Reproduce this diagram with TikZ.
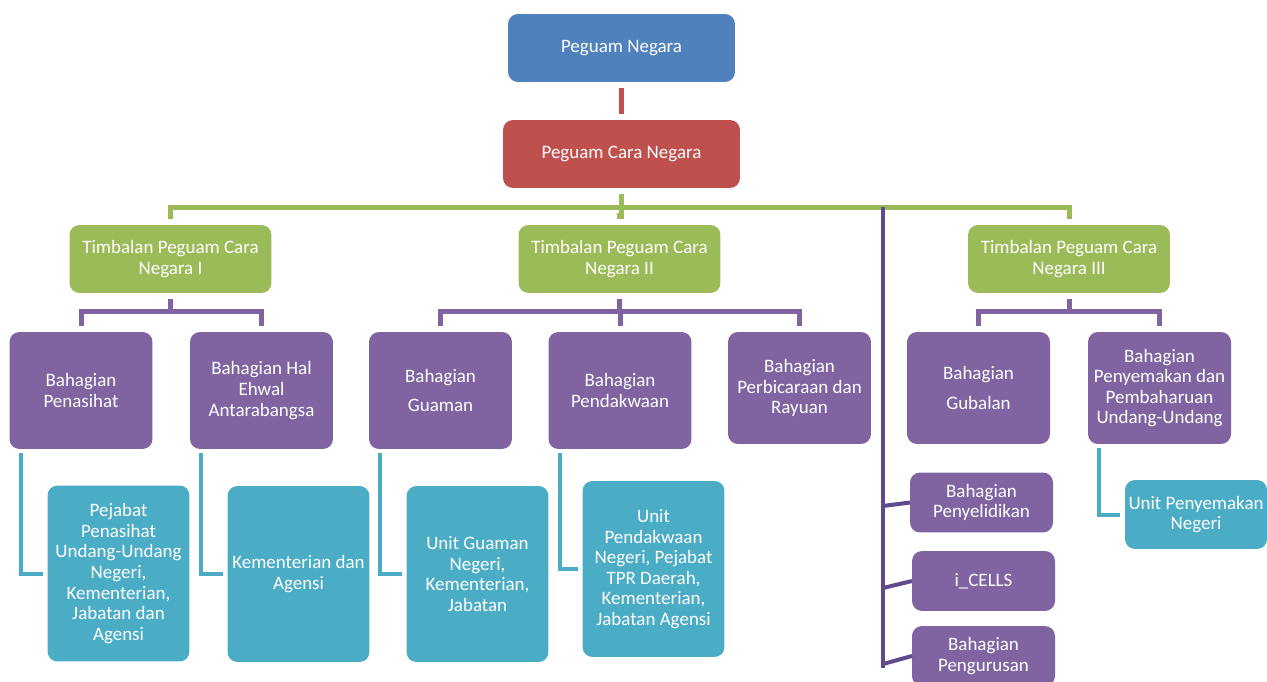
\documentclass[tikz,border=0pt]{standalone}
\usepackage{fontspec}
\setmainfont{Carlito}
\definecolor{pgblue}{HTML}{4F81BD}
\definecolor{pgred}{HTML}{C0504D}
\definecolor{pggreen}{HTML}{9BBB59}
\definecolor{pgpurple}{HTML}{8064A2}
\definecolor{pgdark}{HTML}{5F4B8B}
\definecolor{pgteal}{HTML}{4BACC6}
\begin{document}
\begin{tikzpicture}[x=0.02cm, y=-0.02cm,
  box/.style={rounded corners=0.2cm, text=white, align=center, inner sep=0pt, outer sep=0pt,
    font=\fontsize{10.8}{11.7}\selectfont},
  bluebox/.style={box, fill=pgblue, minimum width=4.54cm, minimum height=1.36cm},
  redbox/.style={box, fill=pgred, minimum width=4.74cm, minimum height=1.36cm},
  greenbox/.style={box, fill=pggreen, minimum width=4.04cm, minimum height=1.36cm},
  divbox/.style={box, fill=pgpurple, minimum width=2.86cm, minimum height=2.34cm},
  divshort/.style={box, fill=pgpurple, minimum width=2.86cm, minimum height=2.24cm},
  smallbox/.style={box, fill=pgpurple, minimum width=2.86cm, minimum height=1.2cm},
  unitbox/.style={box, fill=pgteal, minimum width=2.84cm, minimum height=3.52cm},
  unitsmall/.style={box, fill=pgteal, minimum width=2.84cm, minimum height=1.38cm},
  link/.style={line width=0.1cm, shorten <=0.12cm, shorten >=0.12cm},
  redline/.style={link, pgred},
  greenline/.style={link, pggreen},
  purpleline/.style={link, pgpurple},
  darkline/.style={line width=0.08cm, pgdark},
  tealline/.style={line width=0.08cm, pgteal, shorten <=0.09cm, shorten >=0.1cm}]

\useasboundingbox (0,0) rectangle (1267,682);

\node[bluebox] (pn) at (621.5,48) {Peguam Negara};
\node[redbox] (pcn) at (621.5,154) {Peguam Cara Negara};

\node[greenbox] (tp1) at (170.5,259) {Timbalan Peguam Cara\\Negara I};
\node[greenbox] (tp2) at (619.5,259) {Timbalan Peguam Cara\\Negara II};
\node[greenbox] (tp3) at (1069,259) {Timbalan Peguam Cara\\Negara III};

\node[divbox] (pen) at (81,390.5) {Bahagian\\Penasihat};
\node[divbox] (hal) at (261.5,390.5) {Bahagian Hal\\Ehwal\\Antarabangsa};
\node[divbox] (gua) at (440.5,390.5) {Bahagian\\[0.17cm]Guaman};
\node[divbox] (pdk) at (620,390.5) {Bahagian\\Pendakwaan};
\node[divshort] (prb) at (799.5,388) {Bahagian\\Perbicaraan dan\\Rayuan};
\node[divshort] (gub) at (978.5,388) {Bahagian\\[0.17cm]Gubalan};
\node[divshort] (pym) at (1159.5,388) {Bahagian\\Penyemakan dan\\Pembaharuan\\Undang-Undang};

\node[unitbox] (pej) at (118.5,573.5) {Pejabat\\Penasihat\\Undang-Undang\\Negeri,\\Kementerian,\\Jabatan dan\\Agensi};
\node[unitbox] (kem) at (298.5,574) {Kementerian dan\\Agensi};
\node[unitbox] (ung) at (477.5,574) {Unit Guaman\\Negeri,\\Kementerian,\\Jabatan};
\node[unitbox] (upd) at (653.5,569) {Unit\\Pendakwaan\\Negeri, Pejabat\\TPR Daerah,\\Kementerian,\\Jabatan Agensi};
\node[unitsmall] (ups) at (1196,514.5) {Unit Penyemakan\\Negeri};

\node[smallbox] (pny) at (981.5,502.5) {Bahagian\\Penyelidikan};
\node[smallbox] (cells) at (983.5,581) {i\_CELLS};
\node[smallbox] (png) at (983.5,656) {Bahagian\\Pengurusan};

\draw[redline] (pn) -- (pcn);
\draw[greenline] (pcn.south) -- (pcn.south |- tp2.north);
\draw[greenline] (tp1.north) -- ++(0,-18) -| (tp3.north);
\draw[greenline] (tp2.north) -- ++(0,-18);

\coordinate (vtop) at (883,207);
\coordinate (vbot) at (883,668);
\coordinate (v1) at (883,506);
\coordinate (v2) at (883,588);
\coordinate (v3) at (883,664);
\draw[darkline] (vtop) -- (vbot);
\foreach \v/\n in {v1/pny, v2/cells, v3/png}
\draw[darkline] (\v) -- (\n.west);

\foreach \n in {pen, hal}
\draw[purpleline] (tp1.south) -- ++(0,19) -| (\n.north);
\foreach \n in {gua, pdk, prb}
\draw[purpleline] (tp2.south) -- ++(0,19) -| (\n.north);
\foreach \n in {gub, pym}
\draw[purpleline] (tp3.south) -- ++(0,19) -| (\n.north);

\foreach \a/\b in {pen/pej, hal/kem, gua/ung, pdk/upd, pym/ups}
\draw[tealline] ([xshift=0.22cm]\a.south west) |- (\b.west);

\end{tikzpicture}
\end{document}
